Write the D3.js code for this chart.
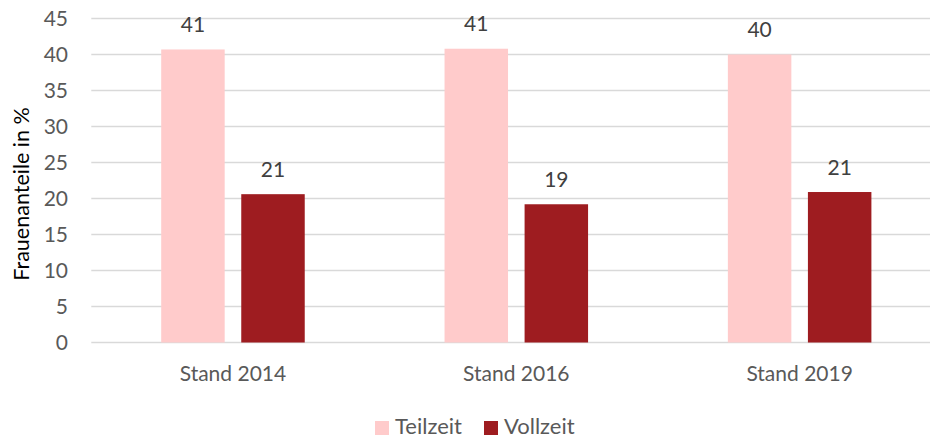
<!DOCTYPE html>
<html>
<head>
<meta charset="utf-8">
<script src="https://cdn.jsdelivr.net/npm/d3@7"></script>
<style>
  html, body { margin: 0; padding: 0; background: #fff; }
  svg { display: block; font-family: Lato, "Open Sans", sans-serif; }
</style>
</head>
<body>
<svg id="chart" width="930" height="440"></svg>
<script>
const categories = ["Stand 2014", "Stand 2016", "Stand 2019"];
const seriesNames = ["Teilzeit", "Vollzeit"];
const teilzeit = [40.7, 40.8, 40.0];
const vollzeit = [20.6, 19.2, 20.9];
const labelsTeilzeit = ["41", "41", "40"];
const labelsVollzeit = ["21", "19", "21"];
const yTicks = [0, 5, 10, 15, 20, 25, 30, 35, 40, 45];
const colors = ["#FFCBCB", "#9E1C20"];

const values = [teilzeit, vollzeit];
const labels = [labelsTeilzeit, labelsVollzeit];

const svg = d3.select("#chart");
const plotLeft = 91.3, plotRight = 941.3, plotTop = 18.5, plotBottom = 342.5;

const y = d3.scaleLinear().domain([0, 45]).range([plotBottom, plotTop]);
const x0 = d3.scaleBand().domain(categories).range([plotLeft, plotRight]).paddingInner(0).paddingOuter(0);
const groupPad = 69.9;
const x1 = d3.scaleBand().domain(seriesNames)
  .range([groupPad, x0.bandwidth() - groupPad]).paddingInner(0.207).paddingOuter(0);

// gridlines
svg.append("g").selectAll("line").data(yTicks).join("line")
  .attr("x1", plotLeft).attr("x2", plotRight)
  .attr("y1", d => y(d)).attr("y2", d => y(d))
  .attr("stroke", "#D9D9D9").attr("stroke-width", 1.5);

// y axis labels
const yAxis = d3.axisLeft(y).tickValues(yTicks).tickSize(0).tickPadding(0);
const ya = svg.append("g").attr("transform", `translate(68,0)`).call(yAxis);
ya.select(".domain").remove();
ya.selectAll("text").attr("font-size", 21).attr("fill", "#595959")
  .attr("font-family", "Lato, 'Open Sans', sans-serif").attr("dy", "0.35em");

// bars
seriesNames.forEach((s, si) => {
  const g = svg.append("g");
  g.selectAll("rect").data(categories).join("rect")
    .attr("x", c => x0(c) + x1(s))
    .attr("width", x1.bandwidth())
    .attr("y", (c, i) => y(values[si][i]))
    .attr("height", (c, i) => y(0) - y(values[si][i]))
    .attr("fill", colors[si]);
  g.selectAll("text").data(categories).join("text")
    .attr("x", c => x0(c) + x1(s) + x1.bandwidth() / 2)
    .attr("y", (c, i) => y(values[si][i]) - 17.5)
    .attr("text-anchor", "middle")
    .attr("font-size", 21).attr("fill", "#404040")
    .text((c, i) => labels[si][i]);
});

// x axis labels
const xAxis = d3.axisBottom(x0).tickSize(0).tickPadding(0);
const xa = svg.append("g").attr("transform", `translate(0,${plotBottom})`).call(xAxis);
xa.select(".domain").remove();
xa.selectAll("text").attr("font-size", 21).attr("fill", "#595959")
  .attr("font-family", "Lato, 'Open Sans', sans-serif").attr("dy", null).attr("y", 38);

// y title
svg.append("text")
  .attr("transform", "translate(29,194) rotate(-90)")
  .attr("text-anchor", "middle")
  .attr("font-size", 21.5).attr("fill", "#000")
  .text("Frauenanteile in %");

// legend
const legendItems = [
  { name: seriesNames[0], color: colors[0], x: 375 },
  { name: seriesNames[1], color: colors[1], x: 484 }
];
const lg = svg.append("g");
legendItems.forEach(it => {
  lg.append("rect").attr("x", it.x).attr("y", 421).attr("width", 14).attr("height", 14).attr("fill", it.color);
  lg.append("text").attr("x", it.x + 20).attr("y", 434).attr("font-size", 22)
    .attr("fill", "#595959").text(it.name);
});
</script>
</body>
</html>
